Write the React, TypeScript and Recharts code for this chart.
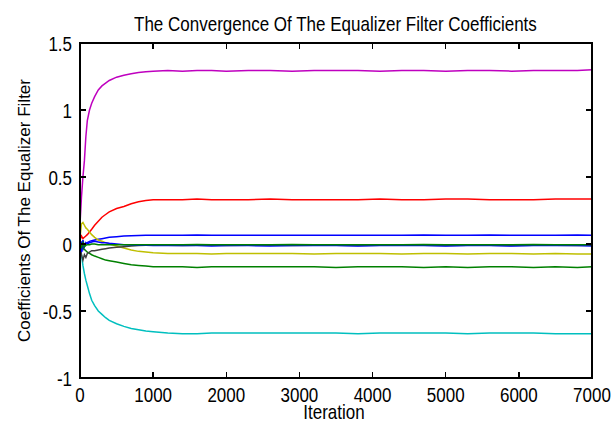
import { LineChart, Line, XAxis, YAxis, Label } from 'recharts';

const iterations = [
  0, 20, 40, 60, 80, 100, 130, 160, 200, 250, 300, 350, 400, 500, 600, 700, 800, 900, 1000, 1200,
  1400, 1600, 1800, 2000, 2300, 2600, 2900, 3200, 3500, 3800, 4100, 4400, 4700, 5000, 5300, 5600,
  5900, 6200, 6500, 6800, 7000,
];

// one array per filter coefficient, in plot order
const w1Blue = [
  -0.05, 0.02, -0.04, -0.01, 0.0, 0.01, 0.02, 0.025, 0.03, 0.035, 0.04, 0.045, 0.05, 0.055, 0.06, 0.062, 0.064, 0.065, 0.065,
  0.065, 0.065, 0.068, 0.065, 0.065, 0.065, 0.065, 0.065, 0.065, 0.065, 0.065, 0.065, 0.065, 0.068, 0.065, 0.065, 0.068, 0.065, 0.065, 0.065, 0.068, 0.065,
];
const w2Green = [
  0.0, -0.02, -0.03, -0.04, -0.05, -0.06, -0.07, -0.08, -0.09, -0.1, -0.11, -0.12, -0.125, -0.135, -0.145, -0.155, -0.16, -0.165, -0.17,
  -0.17, -0.17, -0.175, -0.17, -0.17, -0.17, -0.17, -0.17, -0.17, -0.175, -0.17, -0.17, -0.17, -0.175, -0.17, -0.175, -0.17, -0.17, -0.175, -0.17, -0.175, -0.17,
];
const w3Red = [
  0.03, 0.06, 0.04, 0.05, 0.06, 0.07, 0.09, 0.11, 0.14, 0.17, 0.2, 0.22, 0.24, 0.265, 0.28, 0.3, 0.315, 0.325, 0.33,
  0.33, 0.33, 0.335, 0.33, 0.33, 0.33, 0.335, 0.33, 0.33, 0.33, 0.33, 0.335, 0.33, 0.33, 0.335, 0.335, 0.33, 0.33, 0.33, 0.335, 0.335, 0.335,
];
const w4Cyan = [
  0.0, -0.08, -0.16, -0.22, -0.27, -0.31, -0.37, -0.42, -0.46, -0.5, -0.525, -0.55, -0.57, -0.595, -0.615, -0.63, -0.64, -0.65, -0.655,
  -0.665, -0.67, -0.67, -0.665, -0.665, -0.665, -0.665, -0.665, -0.665, -0.665, -0.67, -0.665, -0.665, -0.665, -0.665, -0.67, -0.665, -0.665, -0.665, -0.67, -0.67, -0.67,
];
const w5Magenta = [
  0.15, 0.35, 0.5, 0.62, 0.8, 0.92, 1.0, 1.05, 1.1, 1.15, 1.18, 1.2, 1.22, 1.245, 1.26, 1.27, 1.28, 1.285, 1.29,
  1.295, 1.29, 1.295, 1.295, 1.29, 1.295, 1.295, 1.29, 1.295, 1.295, 1.295, 1.29, 1.295, 1.295, 1.29, 1.295, 1.295, 1.29, 1.295, 1.295, 1.295, 1.3,
];
const w6Yellow = [
  0.05, 0.15, 0.16, 0.14, 0.12, 0.11, 0.09, 0.07, 0.05, 0.03, 0.02, 0.01, 0.0, -0.015, -0.03, -0.045, -0.055, -0.06, -0.065,
  -0.07, -0.07, -0.07, -0.075, -0.07, -0.07, -0.07, -0.07, -0.075, -0.07, -0.07, -0.07, -0.075, -0.07, -0.07, -0.075, -0.07, -0.07, -0.075, -0.07, -0.075, -0.075,
];
const w7Gray = [
  0.0, -0.08, -0.12, -0.08, -0.1, -0.07, -0.06, -0.05, -0.05, -0.045, -0.04, -0.035, -0.03, -0.025, -0.02, -0.015, -0.012, -0.01, -0.01,
  -0.01, -0.012, -0.01, -0.01, -0.012, -0.01, -0.01, -0.012, -0.01, -0.01, -0.012, -0.01, -0.01, -0.01, -0.012, -0.01, -0.01, -0.012, -0.01, -0.01, -0.012, -0.01,
];
const w8Blue = [
  0.0, -0.06, 0.03, -0.02, 0.01, 0.0, 0.01, 0.015, 0.02, 0.015, 0.01, 0.01, 0.005, 0.0, -0.005, -0.008, -0.01, -0.01, -0.012,
  -0.012, -0.01, -0.012, -0.015, -0.012, -0.012, -0.015, -0.012, -0.012, -0.012, -0.015, -0.012, -0.012, -0.012, -0.015, -0.012, -0.012, -0.015, -0.012, -0.012, -0.012, -0.015,
];
const w9Green = [
  0.02, -0.03, 0.01, -0.02, -0.01, -0.005, -0.005, 0.0, 0.0, -0.005, -0.005, -0.005, -0.005, -0.005, -0.005, -0.005, -0.005, -0.005, -0.005,
  -0.005, -0.005, -0.003, -0.005, -0.005, -0.005, -0.005, -0.003, -0.005, -0.005, -0.005, -0.005, -0.005, -0.003, -0.005, -0.005, -0.005, -0.005, -0.003, -0.005, -0.005, -0.005,
];

const xTicks = [0, 1000, 2000, 3000, 4000, 5000, 6000, 7000];
const yTicks = [-1, -0.5, 0, 0.5, 1, 1.5];

const series = [
  { key: 'w1', values: w1Blue, color: '#0000FF' },
  { key: 'w2', values: w2Green, color: '#008000' },
  { key: 'w3', values: w3Red, color: '#FF0000' },
  { key: 'w4', values: w4Cyan, color: '#00BFBF' },
  { key: 'w5', values: w5Magenta, color: '#BF00BF' },
  { key: 'w6', values: w6Yellow, color: '#BFBF00' },
  { key: 'w7', values: w7Gray, color: '#404040' },
  { key: 'w8', values: w8Blue, color: '#0000FF' },
  { key: 'w9', values: w9Green, color: '#008000' },
];

const data = iterations.map((it, i) => {
  const row: Record<string, number> = { it };
  series.forEach((s) => {
    row[s.key] = s.values[i];
  });
  return row;
});

const WIDTH = 616;
const HEIGHT = 423;
const MARGIN = { top: 43, right: 24, bottom: 0, left: 0 };
const Y_AXIS_W = 80;
const X_AXIS_H = 45;
const PLOT_LEFT = MARGIN.left + Y_AXIS_W;
const PLOT_TOP = MARGIN.top;
const PLOT_RIGHT = WIDTH - MARGIN.right;
const PLOT_BOTTOM = HEIGHT - MARGIN.bottom - X_AXIS_H;
const X_DOMAIN = [0, 7000];
const Y_DOMAIN = [-1, 1.5];
const FONT = '"Liberation Sans", Arial, sans-serif';
const STRETCH = 1.18;
const TICK = 6;
const FRAME_W = 1.5;

// frame positions for the matlab style box with inward ticks
const frameX = (v: number) =>
  PLOT_LEFT + ((v - X_DOMAIN[0]) / (X_DOMAIN[1] - X_DOMAIN[0])) * (PLOT_RIGHT - PLOT_LEFT);
const frameY = (v: number) =>
  PLOT_BOTTOM - ((v - Y_DOMAIN[0]) / (Y_DOMAIN[1] - Y_DOMAIN[0])) * (PLOT_BOTTOM - PLOT_TOP);

function BottomTick({ x, y, payload }: any) {
  return (
    <text
      transform={`translate(${x},${y + 24}) scale(1,${STRETCH})`}
      textAnchor="middle"
      fontSize={17}
      fontFamily={FONT}
      fill="#000"
    >
      {payload.value}
    </text>
  );
}

function LeftTick({ x, y, payload }: any) {
  return (
    <text
      transform={`translate(${x - 8},${y + 8}) scale(1,${STRETCH})`}
      textAnchor="end"
      fontSize={17}
      fontFamily={FONT}
      fill="#000"
    >
      {payload.value}
    </text>
  );
}

function XTitle({ viewBox }: any) {
  const cx = viewBox.x + viewBox.width / 2;
  return (
    <text
      transform={`translate(${cx - 2},${viewBox.y + 41}) scale(1,${STRETCH})`}
      textAnchor="middle"
      fontSize={17}
      fontFamily={FONT}
      fill="#000"
    >
      Iteration
    </text>
  );
}

function YTitle({ viewBox }: any) {
  const cy = viewBox.y + viewBox.height / 2;
  return (
    <text
      transform={`translate(30,${cy}) rotate(-90)`}
      textAnchor="middle"
      fontSize={17}
      fontFamily={FONT}
      fill="#000"
    >
      Coefficients Of The Equalizer Filter
    </text>
  );
}

export default function App() {
  return (
    <div style={{ position: 'absolute', left: 0, top: 0, width: WIDTH, height: HEIGHT, background: '#fff' }}>
      <div
        style={{
          position: 'absolute',
          left: 134,
          top: 15,
          width: 400,
          height: 20,
          lineHeight: '20px',
          textAlign: 'center',
          fontFamily: FONT,
          fontSize: 17,
          color: '#000',
          whiteSpace: 'nowrap',
          transform: `scaleY(${STRETCH})`,
        }}
      >
        The Convergence Of The Equalizer Filter Coefficients
      </div>
      <LineChart width={WIDTH} height={HEIGHT} data={data} margin={MARGIN}>
        <XAxis
          dataKey="it"
          type="number"
          domain={X_DOMAIN}
          ticks={xTicks}
          height={X_AXIS_H}
          stroke="#000"
          tickLine={false}
          tickSize={0}
          tickMargin={0}
          interval={0}
          tick={<BottomTick />}
        >
          <Label content={<XTitle />} />
        </XAxis>
        <YAxis
          type="number"
          domain={Y_DOMAIN}
          ticks={yTicks}
          width={Y_AXIS_W}
          stroke="#000"
          tickLine={false}
          tickSize={0}
          tickMargin={0}
          interval={0}
          tick={<LeftTick />}
        >
          <Label content={<YTitle />} />
        </YAxis>
        {series.map((s) => (
          <Line
            key={s.key}
            type="linear"
            dataKey={s.key}
            stroke={s.color}
            strokeWidth={1.5}
            dot={false}
            activeDot={false}
            isAnimationActive={false}
          />
        ))}
      </LineChart>
      <svg
        width={WIDTH}
        height={HEIGHT}
        style={{ position: 'absolute', left: 0, top: 0, pointerEvents: 'none', zIndex: 2 }}
      >
        <rect
          x={PLOT_LEFT}
          y={PLOT_TOP}
          width={PLOT_RIGHT - PLOT_LEFT}
          height={PLOT_BOTTOM - PLOT_TOP}
          fill="none"
          stroke="#000"
          strokeWidth={FRAME_W}
          shapeRendering="crispEdges"
        />
        {xTicks.map((t) => (
          <g key={`xt${t}`}>
            <line
              x1={frameX(t)}
              x2={frameX(t)}
              y1={PLOT_BOTTOM}
              y2={PLOT_BOTTOM - TICK}
              stroke="#000"
              strokeWidth={FRAME_W}
              shapeRendering="crispEdges"
            />
            <line
              x1={frameX(t)}
              x2={frameX(t)}
              y1={PLOT_TOP}
              y2={PLOT_TOP + TICK}
              stroke="#000"
              strokeWidth={FRAME_W}
              shapeRendering="crispEdges"
            />
          </g>
        ))}
        {yTicks.map((t) => (
          <g key={`yt${t}`}>
            <line
              x1={PLOT_LEFT}
              x2={PLOT_LEFT + TICK}
              y1={frameY(t)}
              y2={frameY(t)}
              stroke="#000"
              strokeWidth={FRAME_W}
              shapeRendering="crispEdges"
            />
            <line
              x1={PLOT_RIGHT}
              x2={PLOT_RIGHT - TICK}
              y1={frameY(t)}
              y2={frameY(t)}
              stroke="#000"
              strokeWidth={FRAME_W}
              shapeRendering="crispEdges"
            />
          </g>
        ))}
      </svg>
    </div>
  );
}
